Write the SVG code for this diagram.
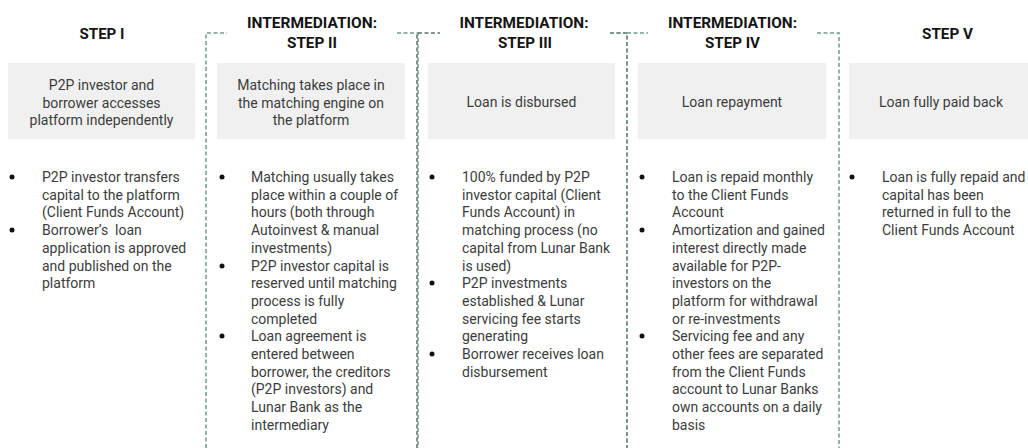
<svg xmlns="http://www.w3.org/2000/svg" width="1028" height="448" viewBox="0 0 1028 448">
  <style>
    .hdr { font-family: Roboto, "Liberation Sans", sans-serif; font-weight: 700; font-size: 14.5px; fill: #141414; text-anchor: middle; }
    .box { fill: #f0f0f0; }
    .boxtxt { font-family: Roboto, "Liberation Sans", sans-serif; font-size: 14px; fill: #3c3c3c; text-anchor: middle; }
    .body { font-family: Roboto, "Liberation Sans", sans-serif; font-size: 14px; fill: #3c3c3c; }
    .dot { fill: #111; }
    .frame { fill: none; stroke: #6f9a8c; stroke-width: 1.5; stroke-dasharray: 4 2.5; }
    .frame-dark { fill: none; stroke: #66706c; stroke-width: 1.5; stroke-dasharray: 4 2.5; }
  </style>

  <!-- dashed frames around the intermediation steps -->
  <g id="connectors">
    <path class="frame" d="M206,448 V33 H227 M397,33 H418 V448"/>
    <path class="frame-dark" d="M417,448 V33 H440 M610,33 H627 V448"/>
    <path class="frame" d="M610,33 H627 V448 M817,33 H839 V448"/>
    <path class="frame" d="M627,33 H648"/>
  </g>

  <!-- Step I -->
  <g id="step1">
    <text class="hdr" x="102" y="39" textLength="45" lengthAdjust="spacingAndGlyphs">STEP I</text>
    <rect class="box" x="8" y="63" width="187" height="76"/>
    <text class="boxtxt"><tspan x="101.5" y="90">P2P investor and</tspan><tspan x="101.5" dy="17.5">borrower accesses</tspan><tspan x="101.5" dy="17.5">platform independently</tspan></text>
    <circle class="dot" cx="12" cy="177" r="2.5"/>
    <circle class="dot" cx="12" cy="230" r="2.5"/>
    <text class="body"><tspan x="42" y="182">P2P investor transfers</tspan><tspan x="42" dy="17.7">capital to the platform</tspan><tspan x="42" dy="17.7">(Client Funds Account)</tspan><tspan x="42" dy="17.7">Borrower’s&#160; loan</tspan><tspan x="42" dy="17.7">application is approved</tspan><tspan x="42" dy="17.7">and published on the</tspan><tspan x="42" dy="17.7">platform</tspan></text>
  </g>

  <!-- Step II -->
  <g id="step2">
    <text class="hdr" x="312" y="27.5" textLength="130" lengthAdjust="spacingAndGlyphs">INTERMEDIATION:</text>
    <text class="hdr" x="312" y="47.5" textLength="50" lengthAdjust="spacingAndGlyphs">STEP II</text>
    <rect class="box" x="217" y="63" width="188" height="76"/>
    <text class="boxtxt"><tspan x="311" y="90">Matching takes place in</tspan><tspan x="311" dy="17.5">the matching engine on</tspan><tspan x="311" dy="17.5">the platform</tspan></text>
    <circle class="dot" cx="222" cy="177" r="2.5"/>
    <circle class="dot" cx="222" cy="266" r="2.5"/>
    <circle class="dot" cx="222" cy="336" r="2.5"/>
    <text class="body"><tspan x="251" y="182">Matching usually takes</tspan><tspan x="251" dy="17.7">place within a couple of</tspan><tspan x="251" dy="17.7">hours (both through</tspan><tspan x="251" dy="17.7">Autoinvest &amp; manual</tspan><tspan x="251" dy="17.7">investments)</tspan><tspan x="251" dy="17.7">P2P investor capital is</tspan><tspan x="251" dy="17.7">reserved until matching</tspan><tspan x="251" dy="17.7">process is fully</tspan><tspan x="251" dy="17.7">completed</tspan><tspan x="251" dy="17.7">Loan agreement is</tspan><tspan x="251" dy="17.7">entered between</tspan><tspan x="251" dy="17.7">borrower, the creditors</tspan><tspan x="251" dy="17.7">(P2P investors) and</tspan><tspan x="251" dy="17.7">Lunar Bank as the</tspan><tspan x="251" dy="17.7">intermediary</tspan></text>
  </g>

  <!-- Step III -->
  <g id="step3">
    <text class="hdr" x="524" y="27.5" textLength="129" lengthAdjust="spacingAndGlyphs">INTERMEDIATION:</text>
    <text class="hdr" x="525" y="47.5" textLength="54" lengthAdjust="spacingAndGlyphs">STEP III</text>
    <rect class="box" x="428" y="63" width="187" height="76"/>
    <text class="boxtxt" x="521.5" y="107">Loan is disbursed</text>
    <circle class="dot" cx="432" cy="177" r="2.5"/>
    <circle class="dot" cx="432" cy="283" r="2.5"/>
    <circle class="dot" cx="432" cy="354" r="2.5"/>
    <text class="body"><tspan x="462" y="182">100% funded by P2P</tspan><tspan x="462" dy="17.7">investor capital (Client</tspan><tspan x="462" dy="17.7">Funds Account) in</tspan><tspan x="462" dy="17.7">matching process (no</tspan><tspan x="462" dy="17.7">capital from Lunar Bank</tspan><tspan x="462" dy="17.7">is used)</tspan><tspan x="462" dy="17.7">P2P investments</tspan><tspan x="462" dy="17.7">established &amp; Lunar</tspan><tspan x="462" dy="17.7">servicing fee starts</tspan><tspan x="462" dy="17.7">generating</tspan><tspan x="462" dy="17.7">Borrower receives loan</tspan><tspan x="462" dy="17.7">disbursement</tspan></text>
  </g>

  <!-- Step IV -->
  <g id="step4">
    <text class="hdr" x="732.5" y="27.5" textLength="129" lengthAdjust="spacingAndGlyphs">INTERMEDIATION:</text>
    <text class="hdr" x="732.5" y="47.5" textLength="55" lengthAdjust="spacingAndGlyphs">STEP IV</text>
    <rect class="box" x="638" y="63" width="188" height="76"/>
    <text class="boxtxt" x="732" y="107">Loan repayment</text>
    <circle class="dot" cx="642" cy="177" r="2.5"/>
    <circle class="dot" cx="642" cy="230" r="2.5"/>
    <circle class="dot" cx="642" cy="336" r="2.5"/>
    <text class="body"><tspan x="672" y="182">Loan is repaid monthly</tspan><tspan x="672" dy="17.7">to the Client Funds</tspan><tspan x="672" dy="17.7">Account</tspan><tspan x="672" dy="17.7">Amortization and gained</tspan><tspan x="672" dy="17.7">interest directly made</tspan><tspan x="672" dy="17.7">available for P2P-</tspan><tspan x="672" dy="17.7">investors on the</tspan><tspan x="672" dy="17.7">platform for withdrawal</tspan><tspan x="672" dy="17.7">or re-investments</tspan><tspan x="672" dy="17.7">Servicing fee and any</tspan><tspan x="672" dy="17.7">other fees are separated</tspan><tspan x="672" dy="17.7">from the Client Funds</tspan><tspan x="672" dy="17.7">account to Lunar Banks</tspan><tspan x="672" dy="17.7">own accounts on a daily</tspan><tspan x="672" dy="17.7">basis</tspan></text>
  </g>

  <!-- Step V -->
  <g id="step5">
    <text class="hdr" x="947.5" y="39" textLength="51" lengthAdjust="spacingAndGlyphs">STEP V</text>
    <rect class="box" x="849" y="63" width="188" height="76"/>
    <text class="boxtxt" x="941" y="107">Loan fully paid back</text>
    <circle class="dot" cx="852" cy="177" r="2.5"/>
    <text class="body"><tspan x="882" y="182">Loan is fully repaid and</tspan><tspan x="882" dy="17.7">capital has been</tspan><tspan x="882" dy="17.7">returned in full to the</tspan><tspan x="882" dy="17.7">Client Funds Account</tspan></text>
  </g>
</svg>
